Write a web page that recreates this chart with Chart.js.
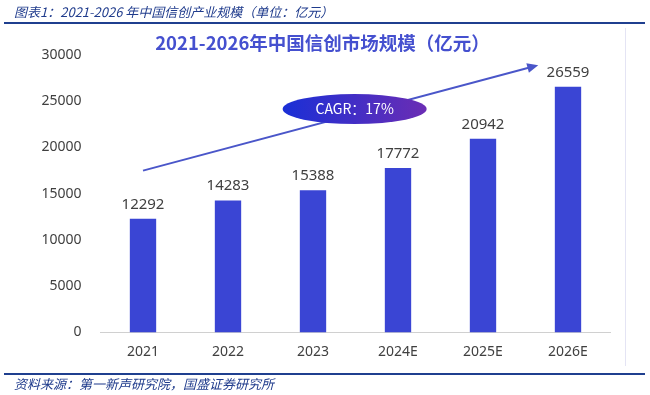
<!DOCTYPE html>
<html>
<head>
<meta charset="utf-8">
<script src="https://cdn.jsdelivr.net/npm/chart.js@4"></script>
<style>
  body { margin: 0; background: #fff; width: 650px; height: 395px; position: relative; overflow: hidden; font-family: "Noto Sans CJK SC", "Noto Sans", sans-serif; }
  #wrap { position: absolute; left: 0; top: 0; width: 650px; height: 395px; }
  .hdr { position: absolute; left: 14px; top: 2px; font-size: 13px; font-style: italic; color: #1f3b8c; }
  .line { position: absolute; left: 4px; width: 641px; height: 1.5px; background: #1f3f8f; }
  .src { position: absolute; left: 14px; top: 374px; font-size: 13px; font-style: italic; color: #1f3b8c; }
  .title { position: absolute; left: 0; width: 645px; top: 29px; text-align: center; font-size: 18.5px; font-weight: bold; color: #4550cf; }
  .edge { position: absolute; left: 625px; top: 28px; width: 1px; height: 338px; background: #e4e4f4; }
</style>
</head>
<body>
<div id="wrap"><canvas id="c" width="650" height="395"></canvas></div>
<div class="hdr">图表1：2021-2026 年中国信创产业规模（单位：亿元）</div>
<div class="line" style="top:22px"></div>
<div class="title">2021-2026年中国信创市场规模（亿元）</div>
<div class="edge"></div>
<div class="line" style="top:373px"></div>
<div class="src">资料来源：第一新声研究院，国盛证券研究所</div>
<script>
const anos = ['2021', '2022', '2023', '2024E', '2025E', '2026E'];
const valores = [12292, 14283, 15388, 17772, 20942, 26559];
const ticksY = [0, 5000, 10000, 15000, 20000, 25000, 30000];
// seta do CAGR (em unidades de categoria / valor)
const setaInicio = [0, 17500];
const setaFim = [4.65, 28900];
const elipse = { x: 2.49, y: 24150, texto: 'CAGR：17%' };

const rotulos = {
  id: 'rotulos',
  afterDatasetsDraw(chart) {
    const ctx = chart.ctx;
    const meta = chart.getDatasetMeta(0);
    ctx.save();
    ctx.font = '15px "Noto Sans", sans-serif';
    ctx.fillStyle = '#404040';
    ctx.textAlign = 'center';
    ctx.textBaseline = 'bottom';
    meta.data.forEach((bar, i) => {
      ctx.fillText(valores[i], bar.x, bar.y - 7);
    });
    ctx.restore();
  }
};

const cagr = {
  id: 'cagr',
  afterDatasetsDraw(chart) {
    const ctx = chart.ctx;
    const x = chart.scales.x, y = chart.scales.y;
    const px = v => x.getPixelForValue(0) + v * (x.getPixelForValue(1) - x.getPixelForValue(0));
    const x1 = px(setaInicio[0]), y1 = y.getPixelForValue(setaInicio[1]);
    const x2 = px(setaFim[0]), y2 = y.getPixelForValue(setaFim[1]);
    const a = Math.atan2(y2 - y1, x2 - x1);
    ctx.save();
    ctx.strokeStyle = '#4a56c9';
    ctx.fillStyle = '#4a56c9';
    ctx.lineWidth = 2;
    ctx.beginPath();
    ctx.moveTo(x1, y1);
    ctx.lineTo(x2 - 8 * Math.cos(a), y2 - 8 * Math.sin(a));
    ctx.stroke();
    ctx.beginPath();
    ctx.moveTo(x2, y2);
    ctx.lineTo(x2 - 11 * Math.cos(a) + 5 * Math.sin(a), y2 - 11 * Math.sin(a) - 5 * Math.cos(a));
    ctx.lineTo(x2 - 11 * Math.cos(a) - 5 * Math.sin(a), y2 - 11 * Math.sin(a) + 5 * Math.cos(a));
    ctx.closePath();
    ctx.fill();
    // elipse
    const ex = px(elipse.x), ey = y.getPixelForValue(elipse.y);
    const g = ctx.createLinearGradient(ex - 72, 0, ex + 72, 0);
    g.addColorStop(0, '#1a2fd6');
    g.addColorStop(1, '#6b2db4');
    ctx.fillStyle = g;
    ctx.beginPath();
    ctx.ellipse(ex, ey, 72, 15, 0, 0, Math.PI * 2);
    ctx.fill();
    ctx.fillStyle = '#ffffff';
    ctx.font = '14px "Noto Sans CJK SC", sans-serif';
    ctx.textAlign = 'center';
    ctx.textBaseline = 'middle';
    ctx.fillText(elipse.texto, ex, ey);
    ctx.restore();
  }
};

new Chart(document.getElementById('c'), {
  type: 'bar',
  data: {
    labels: anos,
    datasets: [{ data: valores, backgroundColor: '#3a45d4', barPercentage: 0.31, categoryPercentage: 1 }]
  },
  options: {
    responsive: false,
    animation: false,
    layout: { padding: { top: 55, right: 39.5, bottom: 0, left: 0 } },
    plugins: { legend: { display: false }, tooltip: { enabled: false } },
    scales: {
      x: {
        grid: { display: false, drawTicks: false },
        border: { display: true, color: '#d0d0d0' },
        ticks: { color: '#404040', font: { size: 14, family: '"Noto Sans", sans-serif' }, padding: 11 },
        afterFit(s) { s.height = 62.5; }
      },
      y: {
        min: 0, max: 30000,
        afterBuildTicks(s) { s.ticks = ticksY.map(v => ({ value: v })); },
        grid: { display: false, drawTicks: false },
        border: { display: false },
        ticks: { color: '#404040', font: { size: 14, family: '"Noto Sans", sans-serif' }, padding: 19, callback: v => String(v) },
        afterFit(s) { s.width = 100.5; }
      }
    }
  },
  plugins: [rotulos, cagr]
});
</script>
</body>
</html>
